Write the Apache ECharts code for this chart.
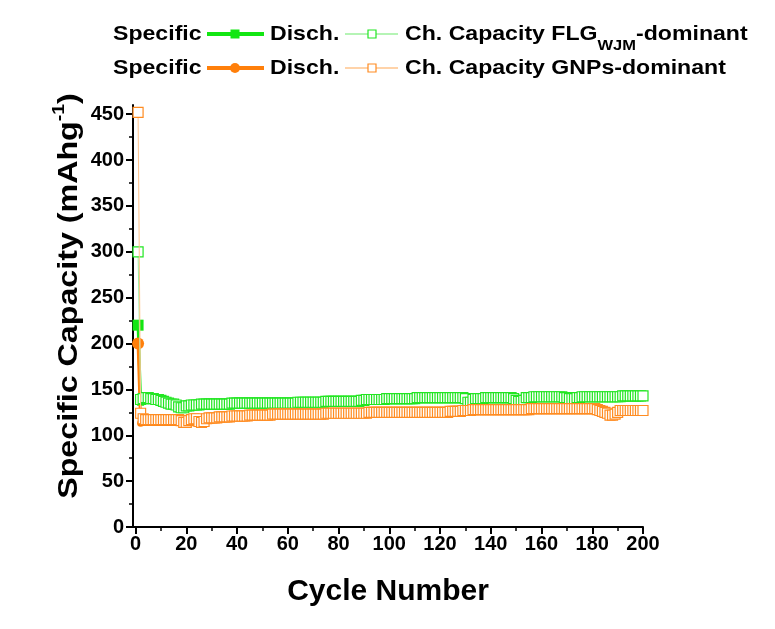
<!DOCTYPE html>
<html>
<head>
<meta charset="utf-8">
<script src="https://cdn.jsdelivr.net/npm/echarts@6/dist/echarts.min.js"></script>
<style>html,body{margin:0;padding:0;background:#fff;}#c{width:775px;height:629px;}</style>
</head>
<body>
<div id="c"></div>
<script>
const xTicks = [0,20,40,60,80,100,120,140,160,180,200];
const xMinorTicks = [10,30,50,70,90,110,130,150,170,190];
const yTicks = [0,50,100,150,200,250,300,350,400,450];
const cycles = Array.from({length:200}, (_, i) => i + 1);

const greenCharge = [300,139,140,141,141,140,140,139,139,138,
137,136,135,134,134,133,131,130,130,132,
132,133,133,133,133,134,134,134,134,134,
134,134,134,134,134,134,134,135,135,135,
135,135,135,135,135,135,135,135,135,135,
135,135,135,135,135,135,135,135,135,135,
135,135,135,136,136,136,136,136,136,136,
136,136,136,136,137,137,137,137,137,137,
137,137,137,137,137,137,137,137,138,138,
139,139,139,139,139,139,139,139,140,140,
140,140,140,140,140,140,140,140,140,140,
141,141,141,141,141,141,141,141,141,141,
141,141,141,141,141,141,141,141,141,140,
136,136,139,140,140,140,140,141,141,141,
141,141,141,141,141,141,141,141,140,138,
137,137,138,141,141,141,142,142,142,142,
142,142,142,142,142,142,142,142,141,141,
140,140,140,141,141,142,142,142,142,142,
142,142,142,142,142,142,142,142,142,142,
142,143,143,143,143,143,143,143,143,143];

const greenDischarge = [220,136,139,140,140,139,139,138,138,137,
136,135,134,133,133,132,130,129,129,131,
131,132,132,132,132,133,133,133,133,133,
133,133,133,133,133,133,133,134,134,134,
134,134,134,134,134,134,134,134,134,134,
134,134,134,134,134,134,134,134,134,134,
134,134,134,135,135,135,135,135,135,135,
135,135,135,135,136,136,136,136,136,136,
136,136,136,136,136,136,136,136,137,137,
138,138,138,138,138,138,138,138,139,139,
139,139,139,139,139,139,139,139,139,139,
140,140,140,140,140,140,140,140,140,140,
140,140,140,140,140,140,140,140,140,139,
135,135,138,139,139,139,139,140,140,140,
140,140,140,140,140,140,140,140,139,137,
136,136,137,140,140,140,141,141,141,141,
141,141,141,141,141,141,141,141,140,140,
139,139,139,140,140,141,141,141,141,141,
141,141,141,141,141,141,141,141,141,141,
141,142,142,142,142,142,142,142,142,142];

const orangeCharge = [452,124,118,117,117,117,117,117,117,117,
117,117,117,117,117,117,117,116,114,114,
116,117,118,118,115,114,115,118,119,119,
119,119,120,120,120,120,120,121,121,121,
121,121,121,121,122,122,122,122,122,122,
122,122,122,123,123,123,123,123,123,123,
123,123,123,123,123,123,123,123,123,123,
123,123,123,123,124,124,124,124,124,124,
124,124,124,124,124,124,124,124,124,124,
124,125,125,125,125,125,125,125,125,125,
125,125,125,125,125,125,125,125,125,125,
125,125,125,125,125,125,125,125,125,125,
125,125,125,126,126,126,126,126,127,127,
127,127,128,128,128,128,128,128,128,128,
128,128,128,128,128,128,128,128,128,128,
128,128,128,128,128,129,129,129,129,129,
129,129,129,129,129,129,129,129,129,129,
129,129,129,129,129,129,129,129,129,129,
129,128,127,126,125,124,122,122,123,125,
127,127,127,127,127,127,127,127,127,127];

const orangeDischarge = [200,113,114,114,114,114,114,114,114,114,
114,114,114,114,114,114,114,113,112,112,
113,114,115,115,113,112,113,115,116,116,
117,117,118,118,118,118,118,119,119,119,
119,119,119,119,120,120,120,120,120,120,
120,120,120,121,121,121,121,121,121,121,
121,121,121,121,121,121,121,121,121,121,
121,121,121,121,122,122,122,122,122,122,
122,122,122,122,122,122,122,122,122,122,
122,123,123,123,123,123,123,123,123,123,
123,123,123,123,123,123,123,123,123,123,
123,123,123,123,123,123,123,123,123,123,
123,123,123,124,124,124,124,124,125,125,
125,125,126,126,126,126,126,126,126,126,
126,126,126,126,126,126,126,126,126,126,
126,126,126,126,126,127,127,127,127,127,
127,127,127,127,127,127,127,127,127,127,
127,127,127,127,127,127,127,127,127,127,
127,126,125,124,123,122,121,121,122,123,
125,125,125,125,125,125,125,125,125,125];

const GREEN = '#12e612';
const GREEN_LIGHT = '#9cf09c';
const GREEN_EDGE = '#22e622';
const ORANGE = '#ff7f0a';
const ORANGE_LIGHT = '#ffc48c';
const ORANGE_EDGE = '#ff8c22';
const FONT = 'Liberation Sans';

const pairs = (arr) => cycles.map((c, i) => [c, arr[i]]);

const chart = echarts.init(document.getElementById('c'), null, {renderer: 'canvas'});

const lx = 1.1; // horizontal stretch of legend text
const LF = 'bold 21px "' + FONT + '"';
function legendRow(y, dColor, dSymbol, cColor, cLight, label) {
  return [
    {type:'text', x:113, y:y, scaleX:lx, style:{text:'Specific', font:LF, fill:'#000', textVerticalAlign:'middle', textAlign:'left'}},
    {type:'line', shape:{x1:207, y1:y, x2:264, y2:y}, style:{stroke:dColor, lineWidth:4}},
    dSymbol === 'rect'
      ? {type:'rect', shape:{x:230.5, y:y-4.5, width:9, height:9}, style:{fill:dColor}}
      : {type:'circle', shape:{cx:235, cy:y, r:5}, style:{fill:dColor}},
    {type:'text', x:270, y:y, scaleX:lx, style:{text:'Disch.', font:LF, fill:'#000', textVerticalAlign:'middle', textAlign:'left'}},
    {type:'line', shape:{x1:345, y1:y, x2:398, y2:y}, style:{stroke:cLight, lineWidth:1.5}},
    {type:'rect', shape:{x:368, y:y-4, width:8, height:8}, style:{fill:'#fff', stroke:cColor, lineWidth:1.2}},
    {type:'text', x:405, y:y, scaleX:lx, style:{
      text: label, fill:'#000', textVerticalAlign:'middle', textAlign:'left',
      rich: {
        a: {fontFamily: FONT, fontWeight:'bold', fontSize:21, lineHeight:38, verticalAlign:'middle'},
        s: {fontFamily: FONT, fontWeight:'bold', fontSize:15, lineHeight:15, verticalAlign:'bottom'}
      }
    }}
  ];
}

const axisBase = {
  type:'value', min:-1, max:200,
  splitLine:{show:false}
};

const option = {
  backgroundColor: '#fff',
  animation: false,
  grid: {left:133, right:132, top:105, bottom:102, containLabel:false},
  xAxis: [
    Object.assign({}, axisBase, {
      interval:20,
      name:'Cycle Number', nameLocation:'middle', nameGap:50,
      nameTextStyle:{fontFamily:FONT, fontWeight:'bold', fontSize:30, color:'#000'},
      axisLine:{show:true, onZero:false, lineStyle:{color:'#000', width:2}},
      axisTick:{show:true, length:7, lineStyle:{color:'#000', width:2}, customValues: xTicks},
      axisLabel:{fontFamily:FONT, fontWeight:'bold', fontSize:20, color:'#000', margin:7,
        customValues: xTicks}
    }),
    Object.assign({}, axisBase, {
      interval:20, position:'bottom',
      axisLine:{show:false},
      axisTick:{show:true, length:4, lineStyle:{color:'#000', width:1.5}, customValues: xMinorTicks},
      axisLabel:{show:false}
    })
  ],
  yAxis: {
    type:'value', min:0, max:460, interval:50,
    axisLine:{show:true, onZero:false, lineStyle:{color:'#000', width:2}},
    axisTick:{show:true, length:7, lineStyle:{color:'#000', width:2}, customValues: yTicks},
    minorTick:{show:true, splitNumber:2, length:4, lineStyle:{color:'#000', width:1.5}},
    axisLabel:{fontFamily:FONT, fontWeight:'bold', fontSize:20, color:'#000', margin:9,
      customValues: yTicks},
    splitLine:{show:false}
  },
  series: [
    {
      name:'Specific Disch. FLG', type:'line', data:pairs(greenDischarge), z:2,
      symbol:'rect', symbolSize:(v, p) => p.dataIndex === 0 ? 11 : 7,
      lineStyle:{color:GREEN, width:3}, itemStyle:{color:GREEN}
    },
    {
      name:'Specific Disch. GNPs', type:'line', data:pairs(orangeDischarge), z:3,
      symbol:'circle', symbolSize:(v, p) => p.dataIndex === 0 ? 12 : 7,
      lineStyle:{color:ORANGE, width:3}, itemStyle:{color:ORANGE}
    },
    {
      name:'Ch. Capacity FLG', type:'line', data:pairs(greenCharge), z:4,
      symbol:'rect', symbolSize:10, showAllSymbol:true,
      lineStyle:{color:GREEN_LIGHT, width:1}, itemStyle:{color:'#fff', borderColor:GREEN_EDGE, borderWidth:1.2}
    },
    {
      name:'Ch. Capacity GNPs', type:'line', data:pairs(orangeCharge), z:5,
      symbol:'rect', symbolSize:10, showAllSymbol:true,
      lineStyle:{color:ORANGE_LIGHT, width:1}, itemStyle:{color:'#fff', borderColor:ORANGE_EDGE, borderWidth:1.2}
    }
  ],
  graphic: [].concat(
    legendRow(34, GREEN, 'rect', GREEN_EDGE, GREEN_LIGHT, '{a|Ch. Capacity FLG}{s|WJM}{a|-dominant}'),
    legendRow(68, ORANGE, 'circle', ORANGE_EDGE, ORANGE_LIGHT, '{a|Ch. Capacity GNPs-dominant}'),
    [{
      type:'text', x:69, y:296, rotation:Math.PI/2, scaleX:1.15,
      style:{
        text:'{a|Specific Capacity (mAhg}{s|-1}{a|)}', fill:'#000',
        textAlign:'center', textVerticalAlign:'middle',
        rich:{
          a:{fontFamily:FONT, fontWeight:'bold', fontSize:28, lineHeight:36, verticalAlign:'middle'},
          s:{fontFamily:FONT, fontWeight:'bold', fontSize:17, lineHeight:17, verticalAlign:'top'}
        }
      }
    }]
  )
};
chart.setOption(option);
</script>
</body>
</html>
